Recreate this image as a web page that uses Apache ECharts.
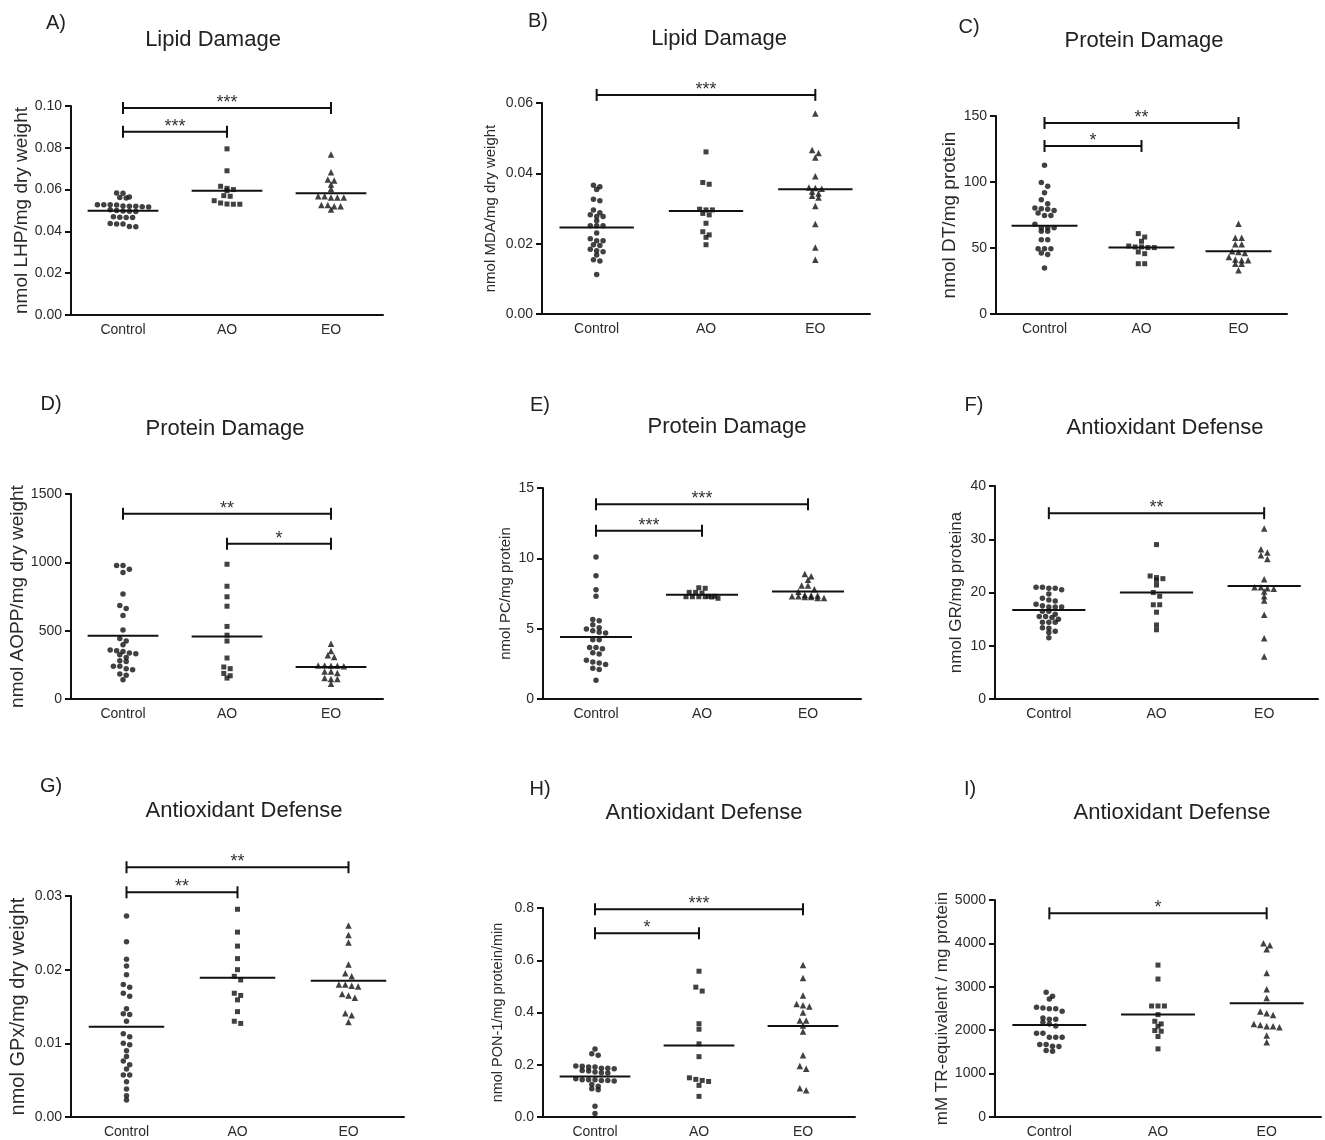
<!DOCTYPE html>
<html><head><meta charset="utf-8">
<script src="https://cdn.jsdelivr.net/npm/echarts@6/dist/echarts.min.js"></script>
<style>html,body{margin:0;padding:0;background:#fff}#c{width:1325px;height:1140px}</style>
</head><body><div id="c"></div>
<script>
const categories = ['Control', 'AO', 'EO'];

// A) Lipid Damage - LHP
const aControl = [0.0584, 0.0582, 0.0565, 0.0562, 0.0560, 0.0528, 0.0528, 0.0527, 0.0526, 0.0522, 0.0520, 0.0520, 0.0518, 0.0517, 0.0503, 0.0500, 0.0498, 0.0496, 0.0495, 0.0470, 0.0468, 0.0467, 0.0466, 0.0438, 0.0436, 0.0435, 0.0424, 0.0422];
const aAO = [0.0795, 0.0690, 0.0616, 0.0606, 0.0600, 0.0595, 0.0571, 0.0568, 0.0547, 0.0536, 0.0531, 0.0530, 0.0530];
const aEO = [0.0768, 0.0683, 0.0648, 0.0643, 0.0624, 0.0603, 0.0568, 0.0562, 0.0562, 0.0562, 0.0568, 0.0526, 0.0520, 0.0520, 0.0526, 0.0505];
const aMeans = [0.0499, 0.0595, 0.0582];
const aBrackets = [[0, 2, 0.099, '***'], [0, 1, 0.0877, '***']];

// B) Lipid Damage - MDA
const bControl = [0.0366, 0.0362, 0.0354, 0.0326, 0.0322, 0.0296, 0.0288, 0.0282, 0.0277, 0.0277, 0.0265, 0.0251, 0.0251, 0.0251, 0.0230, 0.0214, 0.0208, 0.0208, 0.0197, 0.0195, 0.0184, 0.0180, 0.0177, 0.0168, 0.0154, 0.0151, 0.0112];
const bAO = [0.0461, 0.0374, 0.0369, 0.0298, 0.0296, 0.0296, 0.0286, 0.0282, 0.0258, 0.0234, 0.0225, 0.0218, 0.0197];
const bEO = [0.0570, 0.0466, 0.0458, 0.0445, 0.0392, 0.0360, 0.0358, 0.0356, 0.0348, 0.0343, 0.0336, 0.0331, 0.0307, 0.0256, 0.0189, 0.0154];
const bMeans = [0.0246, 0.0293, 0.0355];
const bBrackets = [[0, 2, 0.0623, '***']];

// C) Protein Damage - DT
const cControl = [112.6, 99.7, 96.7, 91.9, 86.6, 83.6, 80.3, 79.8, 79.3, 78.5, 76.5, 74.7, 74.7, 67.9, 65.4, 65.4, 65.4, 62.6, 62.6, 56.3, 56.3, 49.5, 49.5, 49.5, 46.2, 45.0, 34.8];
const cAO = [60.9, 58.3, 55.1, 51.5, 50.8, 50.8, 50.3, 50.3, 47.0, 45.7, 38.1, 38.1];
const cEO = [68.4, 57.8, 57.8, 52.8, 52.8, 47.5, 47.0, 46.2, 43.2, 41.2, 40.7, 40.7, 38.1, 38.1, 33.1];
const cMeans = [66.9, 50.3, 47.5];
const cBrackets = [[0, 2, 144.7, '**'], [0, 1, 127.3, '*']];

// D) Protein Damage - AOPP
const dControl = [976, 976, 950, 925, 769, 684, 662, 611, 504, 443, 424, 397, 358, 353, 348, 336, 331, 324, 304, 280, 275, 239, 239, 222, 214, 183, 173, 141];
const dAO = [986, 825, 748, 679, 531, 467, 424, 300, 234, 222, 187, 170, 153];
const dEO = [404, 351, 321, 307, 246, 246, 243, 243, 239, 202, 202, 190, 153, 146, 146, 112];
const dMeans = [463, 458, 234];
const dBrackets = [[0, 2, 1356, '**'], [1, 2, 1136, '*']];

// E) Protein Damage - PC
const eControl = [10.1, 8.77, 7.77, 7.30, 5.66, 5.57, 5.28, 5.07, 4.98, 4.86, 4.74, 4.69, 4.22, 4.22, 3.67, 3.67, 3.58, 3.29, 3.20, 2.75, 2.63, 2.56, 2.46, 2.18, 2.09, 1.33];
const eAO = [7.91, 7.87, 7.58, 7.58, 7.53, 7.30, 7.30, 7.27, 7.27, 7.27, 7.27, 7.25, 7.16];
const eEO = [8.89, 8.72, 8.48, 8.06, 8.06, 7.80, 7.63, 7.39, 7.35, 7.35, 7.30, 7.30, 7.25, 7.25, 7.18, 7.18];
const eMeans = [4.41, 7.42, 7.65];
const eBrackets = [[0, 2, 13.84, '***'], [0, 1, 11.96, '***']];

// F) Antioxidant Defense - GR
const fControl = [21.0, 21.0, 20.8, 20.8, 20.5, 19.7, 18.9, 18.6, 18.4, 17.8, 17.5, 17.3, 17.3, 17.3, 16.5, 16.5, 15.9, 15.5, 15.5, 15.3, 15.0, 14.4, 14.4, 14.4, 13.4, 13.3, 12.7, 12.5, 11.5];
const fAO = [29.0, 23.1, 22.8, 22.6, 22.3, 21.4, 20.0, 19.3, 17.7, 17.7, 16.3, 13.9, 13.0];
const fEO = [32.0, 28.1, 27.5, 27.0, 26.3, 22.5, 21.0, 21.0, 20.8, 20.7, 20.2, 19.3, 18.5, 15.8, 11.4, 8.0];
const fMeans = [16.7, 20.0, 21.2];
const fBrackets = [[0, 2, 34.9, '**']];

// G) Antioxidant Defense - GPx
const gControl = [0.0273, 0.0238, 0.0214, 0.0205, 0.0193, 0.0180, 0.0176, 0.0168, 0.0164, 0.0147, 0.0140, 0.0139, 0.0130, 0.0113, 0.0109, 0.0100, 0.0098, 0.0090, 0.0082, 0.0076, 0.0071, 0.0065, 0.0057, 0.0057, 0.0048, 0.0038, 0.0029, 0.0023];
const gAO = [0.0282, 0.0251, 0.0232, 0.0215, 0.0200, 0.0191, 0.0186, 0.0168, 0.0165, 0.0159, 0.0143, 0.0130, 0.0127];
const gEO = [0.0260, 0.0247, 0.0237, 0.0207, 0.0195, 0.0191, 0.0180, 0.0180, 0.0178, 0.0177, 0.0167, 0.0165, 0.0162, 0.0141, 0.0138, 0.0129];
const gMeans = [0.01226, 0.0189, 0.0185];
const gBrackets = [[0, 2, 0.0339, '**'], [0, 1, 0.0305, '**']];

// H) Antioxidant Defense - PON-1
const hControl = [0.260, 0.242, 0.236, 0.195, 0.194, 0.191, 0.191, 0.187, 0.187, 0.185, 0.178, 0.176, 0.172, 0.169, 0.168, 0.146, 0.143, 0.143, 0.143, 0.140, 0.140, 0.138, 0.124, 0.118, 0.108, 0.104, 0.041, 0.013];
const hAO = [0.558, 0.497, 0.482, 0.357, 0.336, 0.280, 0.231, 0.150, 0.144, 0.140, 0.136, 0.121, 0.079];
const hEO = [0.582, 0.532, 0.465, 0.433, 0.428, 0.423, 0.400, 0.369, 0.369, 0.350, 0.327, 0.236, 0.195, 0.185, 0.110, 0.102];
const hMeans = [0.155, 0.274, 0.348];
const hBrackets = [[0, 2, 0.795, '***'], [0, 1, 0.703, '*']];

// I) Antioxidant Defense - TR-equivalent
const iControl = [2873, 2781, 2720, 2528, 2513, 2497, 2497, 2436, 2283, 2252, 2252, 2183, 2145, 2099, 1930, 1930, 1838, 1838, 1838, 1670, 1670, 1631, 1624, 1532, 1517];
const iAO = [3500, 3179, 2558, 2558, 2558, 2359, 2206, 2145, 2091, 1992, 1976, 1854, 1570];
const iEO = [4006, 3960, 3868, 3317, 2941, 2742, 2428, 2390, 2352, 2145, 2122, 2091, 2091, 2068, 1877, 1724];
const iMeans = [2122, 2359, 2620];
const iBrackets = [[0, 2, 4693, '*']];

const panels = [
  {letter: 'A)', title: 'Lipid Damage', yName: 'nmol LHP/mg dry weight', groups: [aControl, aAO, aEO], means: aMeans, brackets: aBrackets, yMax: 0.10, yStep: 0.02, dec: 2},
  {letter: 'B)', title: 'Lipid Damage', yName: 'nmol MDA/mg dry weight', groups: [bControl, bAO, bEO], means: bMeans, brackets: bBrackets, yMax: 0.06, yStep: 0.02, dec: 2},
  {letter: 'C)', title: 'Protein Damage', yName: 'nmol DT/mg protein', groups: [cControl, cAO, cEO], means: cMeans, brackets: cBrackets, yMax: 150, yStep: 50, dec: 0},
  {letter: 'D)', title: 'Protein Damage', yName: 'nmol AOPP/mg dry weight', groups: [dControl, dAO, dEO], means: dMeans, brackets: dBrackets, yMax: 1500, yStep: 500, dec: 0},
  {letter: 'E)', title: 'Protein Damage', yName: 'nmol PC/mg protein', groups: [eControl, eAO, eEO], means: eMeans, brackets: eBrackets, yMax: 15, yStep: 5, dec: 0},
  {letter: 'F)', title: 'Antioxidant Defense', yName: 'nmol GR/mg proteina', groups: [fControl, fAO, fEO], means: fMeans, brackets: fBrackets, yMax: 40, yStep: 10, dec: 0},
  {letter: 'G)', title: 'Antioxidant Defense', yName: 'nmol GPx/mg dry weight', groups: [gControl, gAO, gEO], means: gMeans, brackets: gBrackets, yMax: 0.03, yStep: 0.01, dec: 2},
  {letter: 'H)', title: 'Antioxidant Defense', yName: 'nmol PON-1/mg protein/min', groups: [hControl, hAO, hEO], means: hMeans, brackets: hBrackets, yMax: 0.8, yStep: 0.2, dec: 1},
  {letter: 'I)', title: 'Antioxidant Defense', yName: 'mM TR-equivalent / mg protein', groups: [iControl, iAO, iEO], means: iMeans, brackets: iBrackets, yMax: 5000, yStep: 1000, dec: 0}
];

// Layout (pixels) kept separate from data
const layouts = [
  {grid: [71, 106, 312, 209], title: [213, 40], letter: [56, 23], nameGap: 38, nameSize: 19},
  {grid: [542, 103, 328, 211], title: [719, 39], letter: [538, 21], nameGap: 44, nameSize: 15},
  {grid: [996, 116, 291, 198], title: [1144, 41], letter: [969, 27], nameGap: 30, nameSize: 19},
  {grid: [71, 494, 312, 205], title: [225, 429], letter: [51, 404], nameGap: 44, nameSize: 19},
  {grid: [543, 488, 318, 211], title: [727, 427], letter: [540, 405], nameGap: 30, nameSize: 15},
  {grid: [995, 486, 323, 213], title: [1165, 428], letter: [974, 405], nameGap: 30, nameSize: 17},
  {grid: [71, 896, 333, 221], title: [244, 811], letter: [51, 786], nameGap: 43, nameSize: 20},
  {grid: [543, 908, 312, 209], title: [704, 813], letter: [540, 789], nameGap: 38, nameSize: 14.5},
  {grid: [995, 900, 326, 217], title: [1172, 813], letter: [970, 789], nameGap: 31, nameSize: 17}
];

const FONT = '"Liberation Sans", Arial, Helvetica, sans-serif';
const INK = '#111';
const symbols = [['circle', 5.5], ['rect', 5], ['triangle', 6.5]];

// Row-binned swarm layout (pixel offsets computed from the values)
function swarmOffsets(values, pxPerUnit) {
  const d = 6.4, binH = 4.1;
  const order = values.map((v, i) => i).sort((a, b) => values[b] - values[a]);
  const offs = new Array(values.length).fill(0);
  let row = [];
  let rowY = null;
  const flush = () => {
    const n = row.length;
    row.forEach((idx, k) => { offs[idx] = (k - (n - 1) / 2) * d; });
    row = [];
  };
  order.forEach(i => {
    const y = values[i] * pxPerUnit;
    if (rowY === null || rowY - y >= binH) { flush(); rowY = y; }
    row.push(i);
  });
  flush();
  return offs;
}

const grid = [], xAxis = [], yAxis = [], series = [], graphic = [];
panels.forEach((p, pi) => {
  const L = layouts[pi];
  const [gl, gt, gw, gh] = L.grid;
  grid.push({left: gl, top: gt, width: gw, height: gh, containLabel: false});
  xAxis.push({
    type: 'category', gridIndex: pi, data: categories,
    axisLine: {lineStyle: {color: INK, width: 2}},
    axisTick: {alignWithLabel: true, length: 6, lineStyle: {color: INK, width: 2}},
    axisLabel: {fontSize: 14, color: '#2a2a2a', margin: 8, fontFamily: FONT},
    splitLine: {show: false}
  });
  yAxis.push({
    type: 'value', gridIndex: pi, min: 0, max: p.yMax, interval: p.yStep,
    axisLine: {show: true, lineStyle: {color: INK, width: 2}},
    axisTick: {show: true, length: 6, lineStyle: {color: INK, width: 2}},
    axisLabel: {fontSize: 14, color: '#2a2a2a', margin: 9, fontFamily: FONT, formatter: v => v.toFixed(p.dec)},
    splitLine: {show: false},
    name: p.yName, nameLocation: 'middle', nameGap: L.nameGap,
    nameTextStyle: {fontSize: L.nameSize, color: '#2a2a2a', fontFamily: FONT}
  });
  const pxPerUnit = gh / p.yMax;
  p.groups.forEach((vals, gi) => {
    const offs = swarmOffsets(vals, pxPerUnit);
    series.push({
      type: 'scatter', xAxisIndex: pi, yAxisIndex: pi, name: categories[gi],
      symbol: symbols[gi][0], symbolSize: symbols[gi][1],
      itemStyle: {color: INK},
      data: vals.map((v, k) => ({value: [gi, v], symbolOffset: [offs[k], 0]})),
      z: 3, silent: true
    });
  });
  // mean lines
  series.push({
    type: 'custom', xAxisIndex: pi, yAxisIndex: pi, silent: true, z: 4, clip: false,
    data: p.means.map((m, j) => [j, m]),
    renderItem: (params, api) => {
      const c = api.coord([api.value(0), api.value(1)]);
      const hw = api.size([1, 0])[0] * 0.34;
      return {type: 'line', shape: {x1: c[0] - hw, y1: c[1], x2: c[0] + hw, y2: c[1]}, style: {stroke: INK, lineWidth: 2}};
    }
  });
  // significance brackets
  series.push({
    type: 'custom', xAxisIndex: pi, yAxisIndex: pi, silent: true, z: 4, clip: false,
    data: p.brackets.map(b => [b[0], b[1], b[2]]),
    renderItem: (params, api) => {
      const a = api.coord([api.value(0), api.value(2)]);
      const b = api.coord([api.value(1), api.value(2)]);
      const label = p.brackets[params.dataIndex][3];
      const st = {stroke: INK, lineWidth: 2};
      return {type: 'group', children: [
        {type: 'line', shape: {x1: a[0], y1: a[1], x2: b[0], y2: a[1]}, style: st},
        {type: 'line', shape: {x1: a[0], y1: a[1] - 6, x2: a[0], y2: a[1] + 6}, style: st},
        {type: 'line', shape: {x1: b[0], y1: a[1] - 6, x2: b[0], y2: a[1] + 6}, style: st},
        {type: 'text', x: (a[0] + b[0]) / 2, y: a[1] - 5, style: {text: label, textAlign: 'center', align: 'center', textVerticalAlign: 'middle', verticalAlign: 'middle', font: '18px ' + FONT, fill: '#333'}}
      ]};
    }
  });
  graphic.push({type: 'text', x: L.title[0], y: L.title[1], style: {text: p.title, textAlign: 'center', align: 'center', textVerticalAlign: 'middle', verticalAlign: 'middle', font: '22px ' + FONT, fill: '#222'}});
  graphic.push({type: 'text', x: L.letter[0], y: L.letter[1], style: {text: p.letter, textAlign: 'center', align: 'center', textVerticalAlign: 'middle', verticalAlign: 'middle', font: '20px ' + FONT, fill: '#222'}});
});

const chart = echarts.init(document.getElementById('c'), null, {renderer: 'canvas'});
chart.setOption({
  animation: false,
  backgroundColor: '#fff',
  textStyle: {fontFamily: FONT},
  grid, xAxis, yAxis, series, graphic
});
</script>
</body></html>
